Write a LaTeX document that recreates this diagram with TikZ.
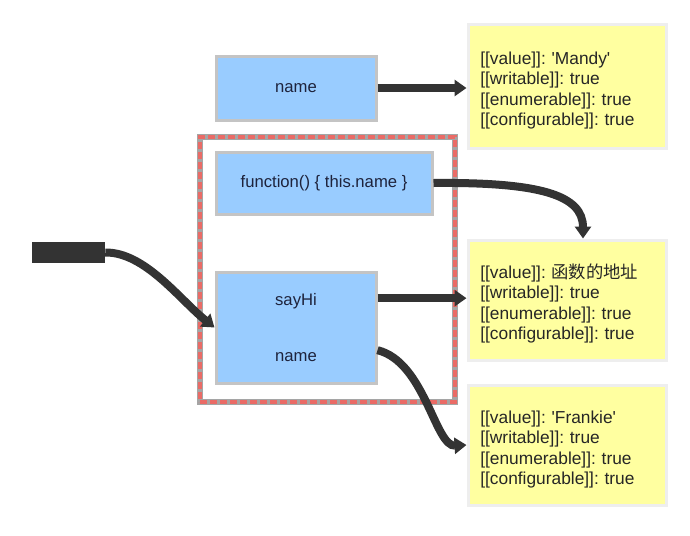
\documentclass[tikz,border=0pt]{standalone}
\usepackage{fontspec}
\setmainfont{Liberation Sans}
\newfontfamily\cjk{Noto Sans CJK SC}
\usetikzlibrary{arrows.meta}
\definecolor{boxblue}{RGB}{153,204,255}
\definecolor{boxgray}{RGB}{196,196,196}
\definecolor{noteyellow}{RGB}{255,255,160}
\definecolor{notegray}{RGB}{238,238,238}
\definecolor{linkdark}{RGB}{51,51,51}
\definecolor{dashred}{RGB}{234,107,102}
\definecolor{framegray}{RGB}{165,165,165}
\definecolor{textnavy}{RGB}{30,35,60}
\frenchspacing

\begin{document}
\begin{tikzpicture}[x=0.75pt,y=0.75pt,yscale=-1,xscale=1,
  propbox/.style={draw=boxgray, line width=2.25pt, fill=boxblue, text=textnavy, inner sep=0pt, align=center, font=\fontsize{12.5}{15}\selectfont},
  notebox/.style={draw=notegray, line width=2.25pt, fill=noteyellow, inner xsep=9pt, inner ysep=0pt, minimum width=148.5pt, text width=130pt, align=left, font=\fontsize{13}{15.2}\selectfont, text=black!85, execute at begin node={\rule{0pt}{16pt}}},
  link/.style={draw=linkdark, line width=6pt, -{Triangle[length=9pt,width=12pt]}}
]
%set diagram to 690 x 536
\useasboundingbox (0,0) rectangle (690,536);

%Shape: Frame of the function object
\node [draw=framegray, line width=4pt, fill=white, minimum width=191.25pt, minimum height=198.75pt] (funcFrame) at (327.5,269.5) {};
\node [draw=dashred, line width=2.5pt, dash pattern=on 5pt off 2.5pt, minimum width=191.25pt, minimum height=198.75pt] (funcDash) at (327.5,269.5) {};

%Shape: Property boxes
\node [propbox, minimum width=120pt, minimum height=48pt] (nameBox) at (296,88) {name};
\node [propbox, minimum width=162pt, minimum height=46.5pt] (funcBox) at (324,183) {function() \{ this.name \}};
\node [propbox, minimum width=120pt, minimum height=83.25pt] (objBox) at (296,327.5) {sayHi\\[27pt]name};

%Shape: Descriptor notes
\node [notebox, minimum height=93pt] (valMandy) at (567,86) {{[}[value]]: \textquotesingle Mandy\textquotesingle\\{}[[writable]]: true\\{}[[enumerable]]: true\\{}[[configurable]]: true};
\node [notebox, minimum height=90pt] (valFunc) at (567,300) {{[}[value]]: {\cjk 函数的地址}\\{}[[writable]]: true\\{}[[enumerable]]: true\\{}[[configurable]]: true};
\node [notebox, minimum height=90pt] (valFrankie) at (567,445) {{[}[value]]: \textquotesingle Frankie\textquotesingle\\{}[[writable]]: true\\{}[[enumerable]]: true\\{}[[configurable]]: true};

%Shape: hidden label on the left
\node [fill=linkdark, inner sep=0pt, minimum width=54.75pt, minimum height=15.75pt] (caller) at (68.5,252.5) {};

%Connectors
\coordinate (sayHiOut) at ([yshift=-22pt]objBox.east);
\coordinate (nameOut) at ([yshift=17pt]objBox.east);
\draw [link] (nameBox.east) -- (valMandy.west |- nameBox.east);
\draw [link] (funcBox.east) .. controls (540,182) and (583,195) .. ([xshift=12pt]valFunc.north);
\draw [link] (sayHiOut) -- (valFunc.west |- sayHiOut);
\draw [link] (nameOut) .. controls (425,362) and (435,447) .. (valFrankie.west);
\draw [link] (caller.east) .. controls (145,252) and (180,300) .. (objBox.west);

\end{tikzpicture}
\end{document}
